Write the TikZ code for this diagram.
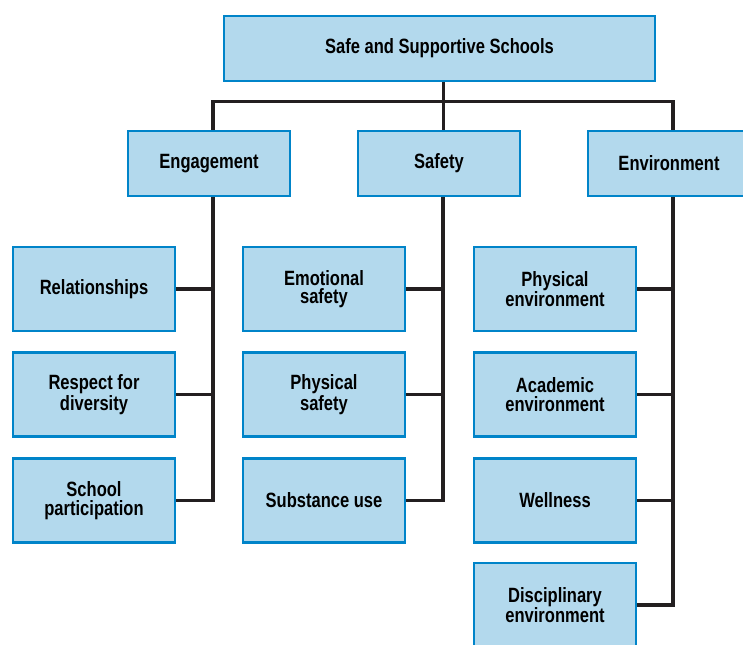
\documentclass[tikz,border=0pt]{standalone}
\usepackage{fontspec}
\setmainfont{Liberation Sans}[FakeStretch=0.8]
\usetikzlibrary{positioning}
\definecolor{boxfill}{RGB}{179,217,237}
\definecolor{boxline}{RGB}{0,132,201}
\definecolor{linkline}{RGB}{35,31,32}

\begin{document}
\begin{tikzpicture}[
    x=0.75pt, y=-0.75pt,
    box/.style={draw=boxline, fill=boxfill, line width=1.9pt, align=center,
                font=\fontsize{15.5}{14}\selectfont\bfseries, inner sep=2pt},
    head/.style={box, minimum width=323pt, minimum height=49pt},
    cat/.style={box, minimum width=121.5pt, minimum height=49pt},
    sub/.style={box, minimum width=121.5pt, minimum height=63pt},
    link/.style={draw=linkline, line width=2.6pt}
  ]
    \clip (0,0) rectangle (743,644);

    % top and the three areas
    \node[head] (sss) at (439.5, 48.5) {Safe and Supportive Schools};
    \node[cat] (eng) at (209, 163.5) {Engagement};
    \node[cat] (saf) at (439, 163.5) {Safety};
    \node[cat] (env) at (669, 163.5) {Environment};

    % engagement
    \node[sub] (rel) at (94, 289) {Relationships};
    \node[sub] (resp) at (94, 394.5) {Respect for\\diversity};
    \node[sub] (part) at (94, 500.5) {School\\participation};

    % safety
    \node[sub] (emo) at (324, 289) {Emotional\\safety};
    \node[sub] (phys) at (324, 394.5) {Physical\\safety};
    \node[sub] (subst) at (324, 500.5) {Substance use};

    % environment
    \node[sub] (penv) at (555, 289) {Physical\\environment};
    \node[sub] (aenv) at (555, 394.5) {Academic\\environment};
    \node[sub] (well) at (555, 500.5) {Wellness};
    \node[sub] (denv) at (555, 605) {Disciplinary\\environment};

    % trunks sit a little right of the box centres
    \coordinate (sssT) at ([xshift=3pt]sss.south);
    \coordinate (engT) at ([xshift=3pt]eng.south);
    \coordinate (safT) at ([xshift=3pt]saf.south);
    \coordinate (envT) at ([xshift=3pt]env.south);

    \draw[link] (sssT) -- (sssT |- saf.north);
    \draw[link] (sssT) -- ++(0,19) -| (engT |- eng.north);
    \draw[link] (sssT) -- ++(0,19) -| (envT |- env.north);

    \draw[link] (engT) |- (rel.east);
    \draw[link] (engT) |- (resp.east);
    \draw[link] (engT) |- (part.east);

    \draw[link] (safT) |- (emo.east);
    \draw[link] (safT) |- (phys.east);
    \draw[link] (safT) |- (subst.east);

    \draw[link] (envT) |- (penv.east);
    \draw[link] (envT) |- (aenv.east);
    \draw[link] (envT) |- (well.east);
    \draw[link] (envT) |- (denv.east);
  \end{tikzpicture}
\end{document}
